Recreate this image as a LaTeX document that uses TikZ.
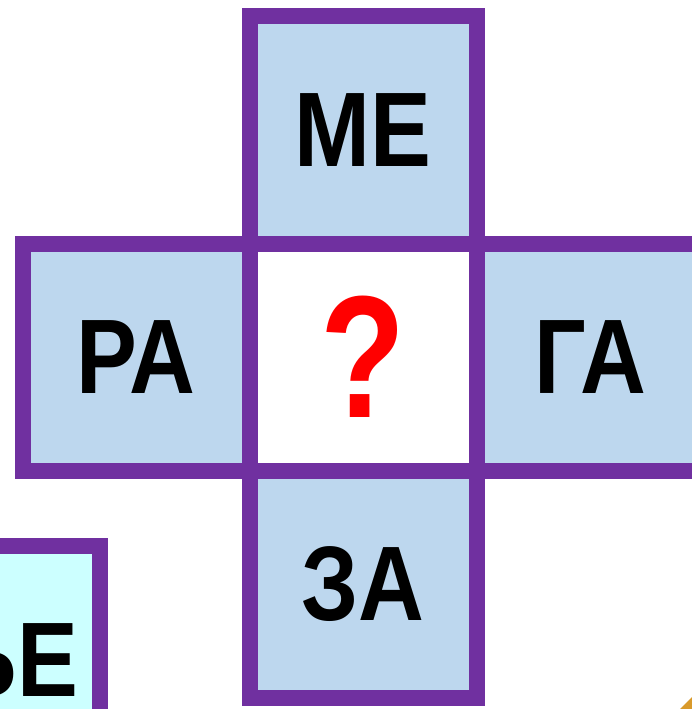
\documentclass[tikz,border=0pt]{standalone}
\usepackage{fontspec}
\setmainfont{Liberation Sans}
\newfontfamily\cellfont[FakeStretch=0.86]{Liberation Sans}
\newfontfamily\askfont[FakeStretch=0.8]{Liberation Sans}
\usepackage{xcolor}
\usetikzlibrary{positioning}

\definecolor{cellline}{HTML}{7030A0}
\definecolor{cellfill}{HTML}{BDD7EE}
\definecolor{sidefill}{HTML}{CCFFFF}
\definecolor{cornerfill}{HTML}{D99A2B}

\begin{document}
\begin{tikzpicture}[x=1pt,y=-1pt,node distance=0pt,
                    cell/.style={draw=cellline,line width=16pt,fill=cellfill,
                                 minimum size=227pt,inner sep=0pt,outer sep=0pt,
                                 font=\cellfont\fontsize{106}{106}\selectfont\bfseries}]
    \clip (0,0) rectangle (692,709);
    \node[cell,fill=white,text=red,
          font=\askfont\fontsize{174}{174}\selectfont\bfseries] (Q) at (363,357) {?};
    \node[cell] (ME) [above=of Q] {МЕ};
    \node[cell] (RA) [left=of Q]  {РА};
    \node[cell] (GA) [right=of Q] {ГА};
    \node[cell] (ZA) [below=of Q] {ЗА};

    % the box cut off at the lower left
    \node[cell,fill=sidefill] (side) at (-14,659) {};
    \node[font=\cellfont\fontsize{106}{106}\selectfont\bfseries,inner sep=0pt,
          anchor=base east] (sidetext) at (78,696) {ЬЕ};

    \fill[cornerfill] (680,709) -- (692,697) -- (692,709) -- cycle;
\end{tikzpicture}
\end{document}
